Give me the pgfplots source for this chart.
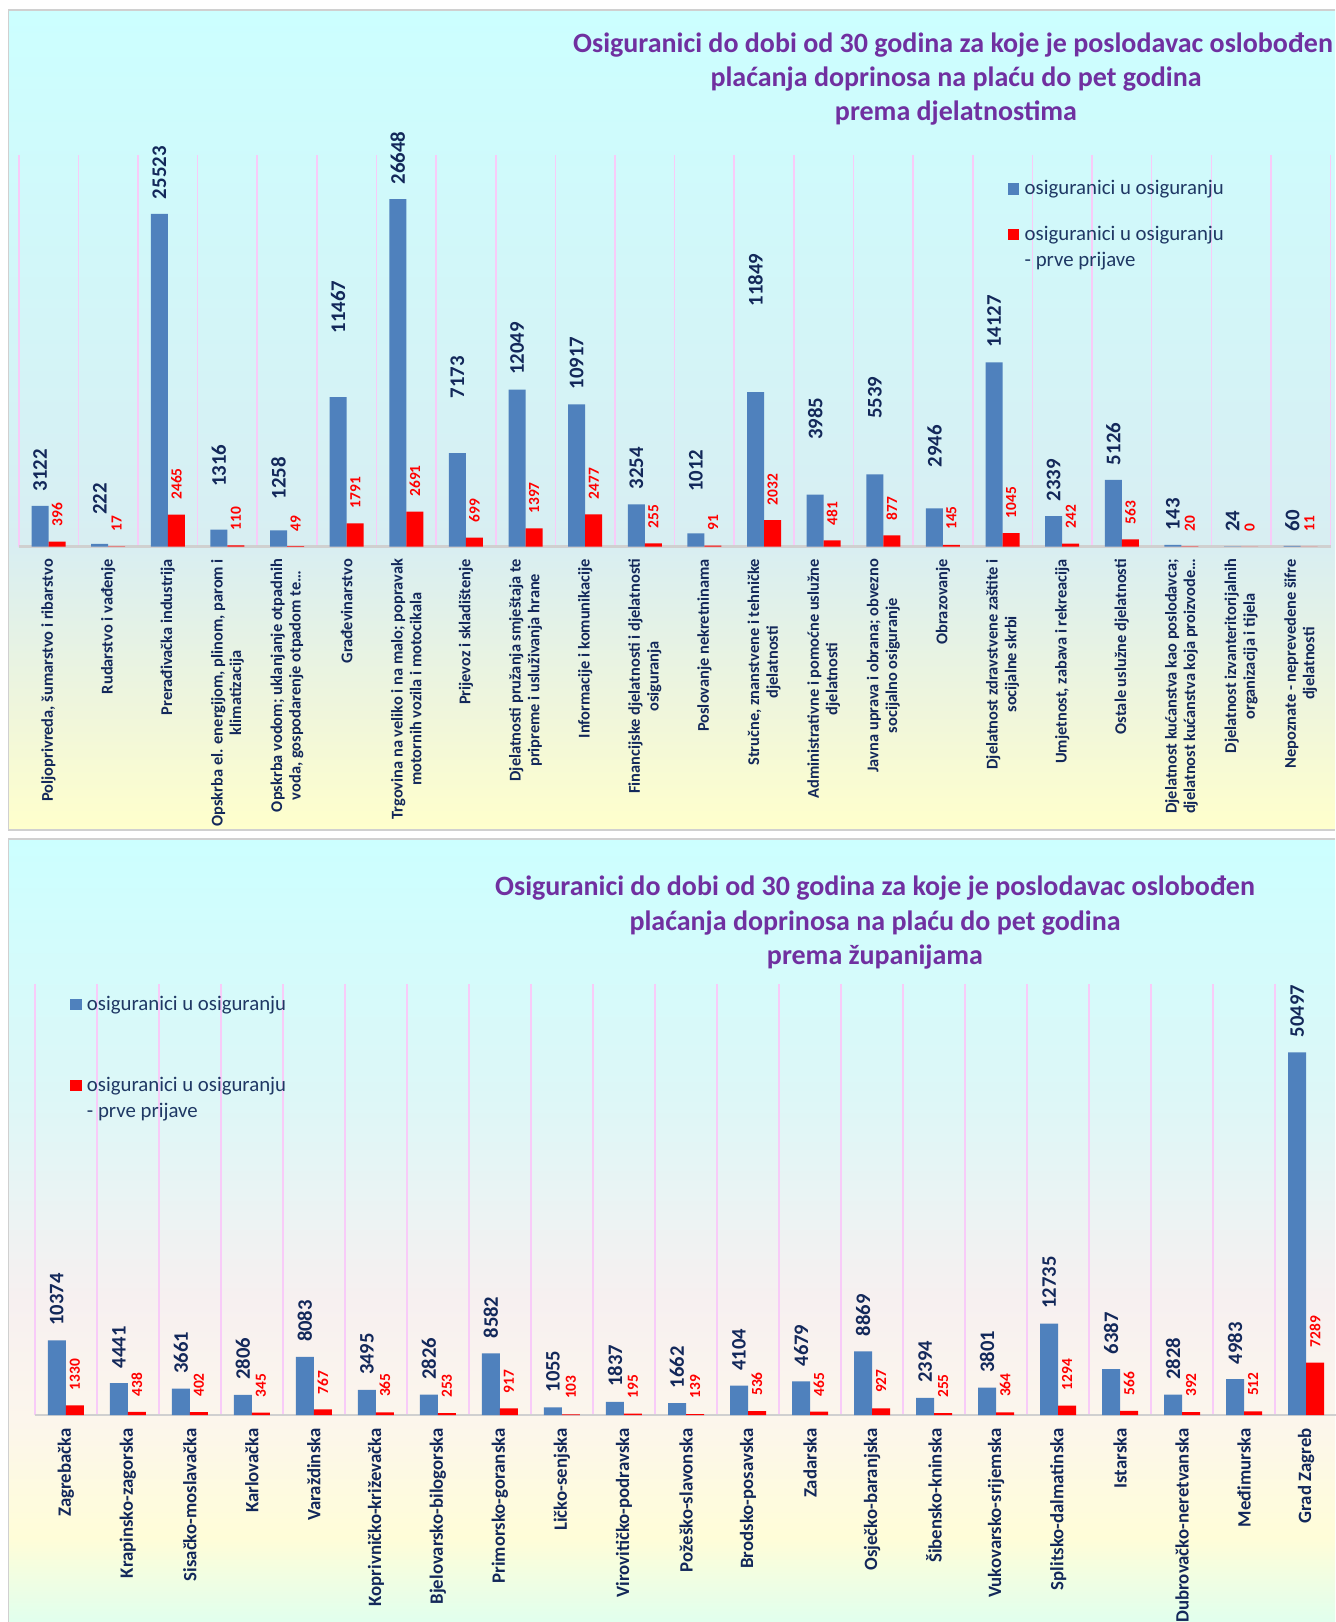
\documentclass[border=0pt]{standalone}
\usepackage{pgfplots}
\pgfplotsset{compat=1.18}
\usepackage{pgfplotstable}
\usepackage{fontspec}
\setmainfont{Carlito}
\definecolor{barblue}{HTML}{4F81BD}
\definecolor{barred}{HTML}{FF0000}
\definecolor{navy}{HTML}{13285A}
\definecolor{legnavy}{HTML}{1F3864}
\definecolor{ttl}{HTML}{7030A0}
\definecolor{gridpink}{HTML}{F8CBF8}
\definecolor{baseg}{HTML}{D0D0D0}
\definecolor{tA}{HTML}{FFFFCC}
\definecolor{tB}{HTML}{EEF5DD}
\definecolor{tC}{HTML}{D8EEF2}
\definecolor{tD}{HTML}{CCFFFF}
\definecolor{bA}{HTML}{E0FFEE}
\definecolor{bB}{HTML}{FFFDD8}
\definecolor{bC}{HTML}{FCF6EC}
\definecolor{bD}{HTML}{F7F0F0}
\definecolor{bE}{HTML}{DDF7F7}
\definecolor{bF}{HTML}{CCFFFF}
\pgfdeclareverticalshading{topshade}{100bp}{color(0bp)=(tA); color(25bp)=(tA); color(33bp)=(tB); color(42.5bp)=(tC); color(75bp)=(tD); color(100bp)=(tD)}
\pgfdeclareverticalshading{botshade}{100bp}{color(0bp)=(bA); color(25bp)=(bA); color(30.5bp)=(bB); color(38bp)=(bC); color(45.5bp)=(bD); color(58.5bp)=(bE); color(75bp)=(bF); color(100bp)=(bF)}

\pgfplotstableread{
x b r bo
0 3122 396 0
1 222 17 7
2 25523 2465 0
3 1316 110 14
4 1258 49 8
5 11467 1791 24.5
6 26648 2691 0
7 7173 699 20
8 12049 1397 0
9 10917 2477 0
10 3254 255 0
11 1012 91 13.5
12 11849 2032 35.5
13 3985 481 20
14 5539 877 20.5
15 2946 145 13
16 14127 1045 0
17 2339 242 0
18 5126 563 0
19 143 20 0
20 24 0 0
21 60 11 0
}\topdata

\pgfplotstableread{
x b r
0 10374 1330
1 4441 438
2 3661 402
3 2806 345
4 8083 767
5 3495 365
6 2826 253
7 8582 917
8 1055 103
9 1837 195
10 1662 139
11 4104 536
12 4679 465
13 8869 927
14 2394 255
15 3801 364
16 12735 1294
17 6387 566
18 2828 392
19 4983 512
20 50497 7289
}\botdata

\pgfplotsset{
  panel/.style={
    scale only axis, ybar=0pt, ymin=0, clip=false,
    enlargelimits=false,
    axis line style={draw=none},
    ytick=\empty,
    major tick length=0pt, minor tick length=0pt,
    xminorgrids, minor grid style={gridpink, line width=0.8pt},
    extra y ticks={0}, extra y tick labels={},
    extra y tick style={grid=major, major grid style={baseg, line width=1.2pt}},
    xticklabel style={inner sep=0pt, rotate=90, anchor=east, align=center, text=navy},
    legend cell align=left,
  },
}

\begin{document}
\begin{tikzpicture}
% panel backgrounds
\fill[white] (0pt,0pt) rectangle (667.5pt,811pt);
\shade[shading=topshade] (4.15pt,396pt) rectangle (667.5pt,806pt);
\draw[baseg, line width=0.6pt] (667.5pt,806pt) -- (4.15pt,806pt) -- (4.15pt,396pt) -- (667.5pt,396pt);
\shade[shading=botshade] (4.15pt,-1pt) rectangle (667.5pt,391.5pt);
\draw[baseg, line width=0.6pt] (667.5pt,391.5pt) -- (4.15pt,391.5pt) -- (4.15pt,-1pt);

% titles
\begin{scope}[every node/.style={anchor=base, text=ttl, font=\bfseries\fontsize{14}{17}\selectfont, inner sep=0pt}]
\node at (476.5pt,784.5pt) {Osiguranici do dobi od 30 godina za koje je poslodavac oslobođen};
\node at (478pt,767.5pt) {plaćanja doprinosa na plaću do pet godina};
\node at (478pt,750.75pt) {prema djelatnostima};
\node at (437.5pt,363pt) {Osiguranici do dobi od 30 godina za koje je poslodavac oslobođen};
\node at (437.5pt,345.75pt) {plaćanja doprinosa na plaću do pet godina};
\node at (437.5pt,328.5pt) {prema županijama};
\end{scope}

% top chart
\begin{axis}[panel,
  at={(9.375pt,537.65pt)}, anchor=south west,
  width=655.9pt, height=195.6pt,
  xmin=-0.5, xmax=21.5, ymax=30000,
  bar width=8.5pt,
  xtick={0,...,21},
  minor xtick={-0.5,0.5,...,21.5},
  xticklabel shift=6pt,
  xticklabel style={font=\bfseries\fontsize{8.2}{9.3}\selectfont},
  xticklabels={
    {Poljoprivreda, šumarstvo i ribarstvo},
    {Rudarstvo i vađenje},
    {Prerađivačka industrija},
    {Opskrba el. energijom, plinom, parom i\\klimatizacija},
    {Opskrba vodom; uklanjanje otpadnih\\voda, gospodarenje otpadom te…},
    {Građevinarstvo},
    {Trgovina na veliko i na malo; popravak\\motornih vozila i motocikala},
    {Prijevoz i skladištenje},
    {Djelatnosti pružanja smještaja te\\pripreme i usluživanja hrane},
    {Informacije i komunikacije},
    {Financijske djelatnosti i djelatnosti\\osiguranja},
    {Poslovanje nekretninama},
    {Stručne, znanstvene i tehničke\\djelatnosti},
    {Administrativne i pomoćne uslužne\\djelatnosti},
    {Javna uprava i obrana; obvezno\\socijalno osiguranje},
    {Obrazovanje},
    {Djelatnost zdravstvene zaštite i\\socijalne skrbi},
    {Umjetnost, zabava i rekreacija},
    {Ostale uslužne djelatnosti},
    {Djelatnost kućanstva kao poslodavca;\\djelatnost kućanstva koja proizvode…},
    {Djelatnost izvanteritorijalnih\\organizacija i tijela},
    {Nepoznate - neprevedene šifre\\djelatnosti}},
  legend style={at={(axis description cs:0.7539,0.9366)}, anchor=north west,
    draw=none, fill=none, inner sep=0pt, row sep=13.85pt, column sep=2.65pt,
    font=\fontsize{10.4}{13}\selectfont, text=legnavy,
    nodes={inner sep=0pt, text height=7pt, text depth=2pt}},
]
\addplot[fill=barblue, draw=none,
  point meta=explicit symbolic,
  nodes near coords={\pgfplotspointmeta},
  visualization depends on={\thisrow{bo} \as \bofs},
  every node near coord/.append style={font=\bfseries\fontsize{10.4}{12}\selectfont, text=navy, rotate=90, anchor=west, inner sep=0pt, xshift={(7.2+\bofs)*1pt}},
  legend image code/.code={\fill[barblue] (0pt,-2.5pt) rectangle (5.65pt,3.15pt);}
] table[x=x, y=b, meta=b] {\topdata};
\addlegendentry{osiguranici u osiguranju}
\addplot[fill=barred, draw=none,
  point meta=explicit symbolic,
  nodes near coords={\pgfplotspointmeta},
  every node near coord/.append style={font=\bfseries\fontsize{7.7}{9}\selectfont, text=barred, rotate=90, anchor=west, inner sep=0pt, xshift=7.3pt},
  legend image code/.code={\fill[barred] (0pt,-2.5pt) rectangle (5.65pt,3.15pt);}
] table[x=x, y=r, meta=r] {\topdata};
\addlegendentry{\vtop{\hbox{osiguranici u osiguranju}\hbox{- prve prijave}}}
\end{axis}

% bottom chart
\begin{axis}[panel,
  at={(17.4pt,103.5pt)}, anchor=south west,
  width=651.2pt, height=215.5pt,
  xmin=-0.5, xmax=20.5, ymax=60000,
  bar width=9pt,
  xtick={0,...,20},
  minor xtick={-0.5,0.5,...,20.5},
  xticklabel shift=6.5pt,
  xticklabel style={font=\bfseries\fontsize{9.4}{11}\selectfont},
  xticklabels={Zagrebačka, Krapinsko-zagorska, Sisačko-moslavačka, Karlovačka, Varaždinska, Koprivničko-križevačka, Bjelovarsko-bilogorska, Primorsko-goranska, Ličko-senjska, Virovitičko-podravska, Požeško-slavonska, Brodsko-posavska, Zadarska, Osječko-baranjska, Šibensko-kninska, Vukovarsko-srijemska, Splitsko-dalmatinska, Istarska, Dubrovačko-neretvanska, Međimurska, Grad Zagreb},
  legend style={at={(axis description cs:0.02703,0.9722)}, anchor=north west,
    draw=none, fill=none, inner sep=0pt, row sep=31.35pt, column sep=2.65pt,
    font=\fontsize{10.4}{13}\selectfont, text=legnavy,
    nodes={inner sep=0pt, text height=7pt, text depth=2pt}},
]
\addplot[fill=barblue, draw=none,
  point meta=explicit symbolic,
  nodes near coords={\pgfplotspointmeta},
  every node near coord/.append style={font=\bfseries\fontsize{10.3}{12}\selectfont, text=navy, rotate=90, anchor=west, inner sep=0pt, xshift=7.3pt},
  legend image code/.code={\fill[barblue] (0pt,-2.5pt) rectangle (5.65pt,3.15pt);}
] table[x=x, y=b, meta=b] {\botdata};
\addlegendentry{osiguranici u osiguranju}
\addplot[fill=barred, draw=none,
  point meta=explicit symbolic,
  nodes near coords={\pgfplotspointmeta},
  every node near coord/.append style={font=\bfseries\fontsize{7.7}{9}\selectfont, text=barred, rotate=90, anchor=west, inner sep=0pt, xshift=7.5pt},
  legend image code/.code={\fill[barred] (0pt,-2.5pt) rectangle (5.65pt,3.15pt);}
] table[x=x, y=r, meta=r] {\botdata};
\addlegendentry{\vtop{\hbox{osiguranici u osiguranju}\hbox{- prve prijave}}}
\end{axis}

\pgfresetboundingbox
\useasboundingbox (0pt,0pt) rectangle (667.5pt,811pt);
\end{tikzpicture}
\end{document}
